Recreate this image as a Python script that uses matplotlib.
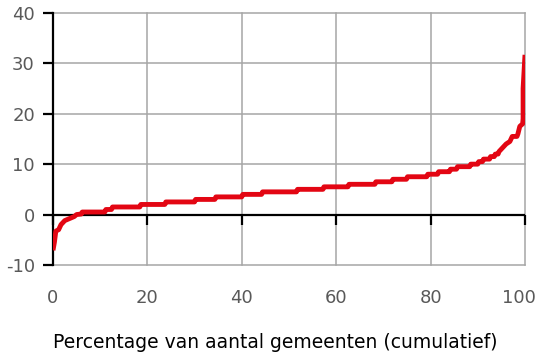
import matplotlib.pyplot as plt
import matplotlib.transforms as mtransforms
import numpy as np

# Data: sorted values against cumulative share of municipalities
pct = [0, 0.3, 0.6, 1.2, 1.7, 2.5, 3.5, 4.5, 5.0, 6.0, 6.2, 11.0, 11.2, 12.4, 12.6,
       18.4, 18.6, 23.7, 23.9, 30.0, 30.2, 34.3, 34.5, 40.0, 40.2, 44.2, 44.4,
       51.6, 51.8, 57.2, 57.4, 62.5, 62.7, 68.2, 68.4, 71.8, 72.0, 74.9, 75.1,
       79.2, 79.4, 81.5, 81.7, 84.0, 84.2, 85.5, 85.7, 88.3, 88.5, 90.0, 90.2,
       91.0, 91.2, 92.5, 92.7, 93.5, 93.7, 94.3, 94.5, 95.0, 95.5, 96.0, 96.8,
       97.3, 98.3, 98.5, 98.9, 99.5, 99.6, 99.6, 100.0]
values = [-7.1, -5.5, -3.3, -3.0, -2.0, -1.2, -0.8, -0.4, 0.0, 0.1, 0.5, 0.5, 1.0, 1.0, 1.5,
          1.5, 2.0, 2.0, 2.5, 2.5, 3.0, 3.0, 3.5, 3.5, 4.0, 4.0, 4.5,
          4.5, 5.0, 5.0, 5.5, 5.5, 6.0, 6.0, 6.5, 6.5, 7.0, 7.0, 7.5,
          7.5, 8.0, 8.0, 8.5, 8.5, 9.0, 9.0, 9.5, 9.5, 10.0, 10.0, 10.5,
          10.5, 11.0, 11.0, 11.5, 11.5, 12.0, 12.0, 12.5, 13.0, 13.5, 14.0, 14.5,
          15.5, 15.5, 16.0, 17.5, 18.0, 19.0, 25.0, 31.7]

x_ticks = [0, 20, 40, 60, 80, 100]
y_ticks = [-10, 0, 10, 20, 30, 40]
y_labels = ['-10', '0', '10', '20', '30', '40']

fig = plt.figure(figsize=(5.39, 3.58), dpi=100)
ax = fig.add_axes([0.0983, 0.260, 0.8757, 0.7037])

grid_col = '#a6a6a6'
label_col = '#595959'

ax.plot(pct, values, color='#e30613', lw=3.5, solid_capstyle='butt', zorder=5)

ax.set_xlim(0, 100)
ax.set_ylim(-10, 40)
ax.set_xticks(x_ticks)
ax.set_yticks(y_ticks, y_labels)
ax.grid(True, color=grid_col, lw=1.1, zorder=0)
for gl in ax.get_xgridlines() + ax.get_ygridlines():
    gl.set_clip_on(False)

for s in ['top', 'right', 'bottom']:
    ax.spines[s].set_visible(False)
ax.spines['left'].set_color('black')
ax.spines['left'].set_linewidth(1.6)
ax.spines['left'].set_zorder(4)

ax.tick_params(axis='y', length=7, width=1.6, color='black', pad=6,
               labelsize=13, labelcolor=label_col)
ax.tick_params(axis='x', length=0, pad=17, labelsize=13, labelcolor=label_col)

# keep the last x label inside the figure, like the original
last = ax.xaxis.get_major_ticks()[-1].label1
last.set_transform(last.get_transform() +
                   mtransforms.ScaledTranslation(-6 / 100, 0, fig.dpi_scale_trans))

# zero line with tick marks
ax.axhline(0, color='black', lw=1.6, zorder=4)
sec = ax.secondary_xaxis(0.2)
sec.set_zorder(6)
sec.set_xticks(x_ticks)
sec.tick_params(axis='x', direction='out', length=7, width=1.6, color='black',
                labelbottom=False)
sec.spines['bottom'].set_visible(False)

ax.set_xlabel('Percentage van aantal gemeenten (cumulatief)', fontsize=13.5,
              color='black')
ax.xaxis.set_label_coords(0.47, -0.27)

fig.savefig('out.png', dpi=100)
